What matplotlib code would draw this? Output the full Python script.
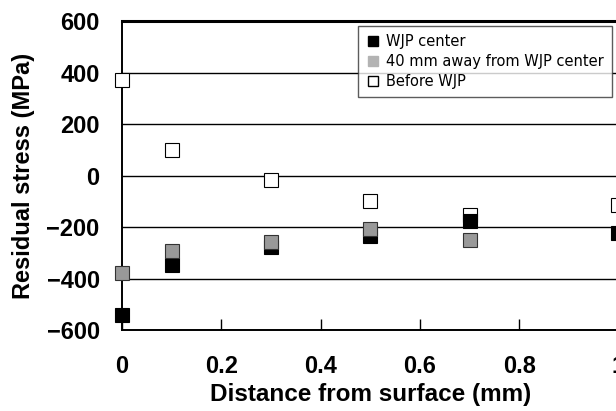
import matplotlib.pyplot as plt
from matplotlib.lines import Line2D

plt.rcParams['font.family'] = ['Liberation Sans', 'DejaVu Sans']

depth = [0, 0.1, 0.3, 0.5, 0.7, 1.0]
before_wjp = [371, 101, -17, -98, -151, -115]
wjp_center = [-540, -346, -275, -233, -175, -224]
depth_away = [0, 0.1, 0.3, 0.5, 0.7]
away_40mm = [-378, -291, -256, -207, -249]

fig = plt.figure(figsize=(6.16, 4.11), dpi=100)
ax = fig.add_axes([0.198, 0.196, 0.806, 0.753])

ms = 10
ax.plot(depth, before_wjp, 's', ms=ms, mfc='white', mec='black', mew=0.8,
        clip_on=False, zorder=3)
ax.plot(depth, wjp_center, 's', ms=ms, mfc='black', mec='black', mew=0.8,
        clip_on=False, zorder=4)
ax.plot(depth_away, away_40mm, 's', ms=ms, mfc='#999999', mec='#333333', mew=0.8,
        clip_on=False, zorder=5)

ax.set_xlim(0, 1)
ax.set_ylim(-600, 600)
ax.set_yticks(range(-600, 601, 200))
ax.set_xticks([0, 0.2, 0.4, 0.6, 0.8, 1.0])
ax.set_xticklabels(['0', '0.2', '0.4', '0.6', '0.8', '1'])
ax.yaxis.grid(True, color='black', lw=1)
ax.set_axisbelow(True)

ax.spines['right'].set_visible(False)
ax.spines['top'].set_linewidth(2.2)
ax.spines['left'].set_linewidth(1.4)
ax.spines['bottom'].set_linewidth(1.4)
ax.tick_params(axis='x', direction='in', length=8, width=1, pad=18)
ax.tick_params(axis='y', length=0, pad=16)
for lab in ax.get_xticklabels() + ax.get_yticklabels():
    lab.set_fontsize(17)
    lab.set_fontweight('bold')

ax.set_xlabel('Distance from surface (mm)', fontsize=17.5, fontweight='bold', labelpad=3)
ax.set_ylabel('Residual stress (MPa)', fontsize=17, fontweight='bold', labelpad=8)

handles = [
    Line2D([], [], ls='none', marker='s', ms=7.5, mfc='black', mec='black'),
    Line2D([], [], ls='none', marker='s', ms=7.5, mfc='#b3b3b3', mec='#b3b3b3'),
    Line2D([], [], ls='none', marker='s', ms=7.5, mfc='white', mec='black'),
]
labels = ['WJP center', '40 mm away from WJP center', 'Before WJP']
leg = ax.legend(handles, labels, loc='upper left', bbox_to_anchor=(0.475, 0.985),
                prop={'family': 'DejaVu Sans', 'size': 10.5},
                frameon=True, fancybox=False, edgecolor='#333333',
                handletextpad=0.4, handlelength=1.0, labelspacing=0.35,
                borderpad=0.55, borderaxespad=0)
leg.get_frame().set_linewidth(1)

fig.savefig('out.png', dpi=100)
